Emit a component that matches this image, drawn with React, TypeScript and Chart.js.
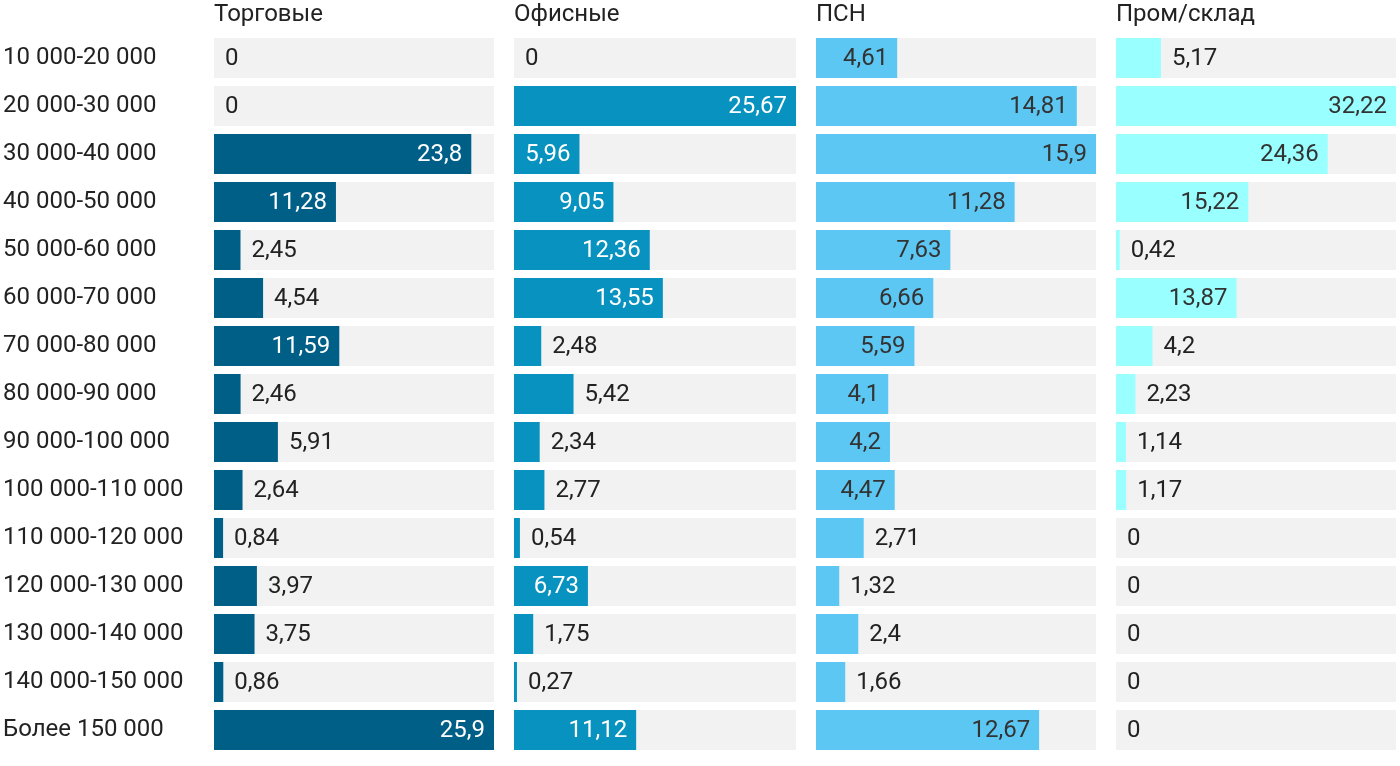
import React, { useEffect, useRef } from "react";
import { Chart, registerables } from "chart.js";

Chart.register(...registerables);

const categories = [
  "10 000-20 000",
  "20 000-30 000",
  "30 000-40 000",
  "40 000-50 000",
  "50 000-60 000",
  "60 000-70 000",
  "70 000-80 000",
  "80 000-90 000",
  "90 000-100 000",
  "100 000-110 000",
  "110 000-120 000",
  "120 000-130 000",
  "130 000-140 000",
  "140 000-150 000",
  "Более 150 000",
];

const retail = [0, 0, 23.8, 11.28, 2.45, 4.54, 11.59, 2.46, 5.91, 2.64, 0.84, 3.97, 3.75, 0.86, 25.9];
const office = [0, 25.67, 5.96, 9.05, 12.36, 13.55, 2.48, 5.42, 2.34, 2.77, 0.54, 6.73, 1.75, 0.27, 11.12];
const psn = [4.61, 14.81, 15.9, 11.28, 7.63, 6.66, 5.59, 4.1, 4.2, 4.47, 2.71, 1.32, 2.4, 1.66, 12.67];
const warehouse = [5.17, 32.22, 24.36, 15.22, 0.42, 13.87, 4.2, 2.23, 1.14, 1.17, 0, 0, 0, 0, 0];

const panelTitles = ["Торговые", "Офисные", "ПСН", "Пром/склад"];

const FONT = "Roboto, 'Noto Sans', sans-serif";
const FONT_SIZE = 24;
const TEXT = "#222222";

type Panel = {
  title: string;
  values: number[];
  color: string;
  insideText: string;
  left: number;
  width: number;
  showLabels: boolean;
};

const panels: Panel[] = [
  { title: panelTitles[0], values: retail, color: "#005f87", insideText: "#ffffff", left: 0, width: 494, showLabels: true },
  { title: panelTitles[1], values: office, color: "#0892bf", insideText: "#ffffff", left: 514, width: 282, showLabels: false },
  { title: panelTitles[2], values: psn, color: "#5dc7f4", insideText: "#333333", left: 816, width: 280, showLabels: false },
  { title: panelTitles[3], values: warehouse, color: "#99ffff", insideText: "#333333", left: 1116, width: 280, showLabels: false },
];

const fmt = (v: number) => String(v).replace(".", ",");

function PanelChart({ panel }: { panel: Panel }) {
  const ref = useRef<HTMLCanvasElement | null>(null);
  useEffect(() => {
    if (!ref.current) return;
    const max = Math.max(...panel.values);
    const backdrop = panel.values.map(() => max);

    const labelPlugin = {
      id: "valueLabels",
      afterDatasetsDraw(chart: any) {
        const ctx = chart.ctx;
        const meta = chart.getDatasetMeta(0);
        ctx.save();
        ctx.font = `${FONT_SIZE}px ${FONT}`;
        ctx.textBaseline = "middle";
        meta.data.forEach((el: any, i: number) => {
          const v = panel.values[i];
          const txt = fmt(v);
          const w = el.x - el.base;
          if (w >= 65) {
            ctx.textAlign = "right";
            ctx.fillStyle = panel.insideText;
            ctx.fillText(txt, el.x - 9, el.y + 1);
          } else {
            ctx.textAlign = "left";
            ctx.fillStyle = TEXT;
            ctx.fillText(txt, el.x + 11, el.y + 1);
          }
        });
        ctx.restore();
      },
    };

    const titlePlugin = {
      id: "panelTitle",
      afterDraw(chart: any) {
        const ctx = chart.ctx;
        ctx.save();
        ctx.font = `${FONT_SIZE}px ${FONT}`;
        ctx.fillStyle = TEXT;
        ctx.textAlign = "left";
        ctx.textBaseline = "middle";
        ctx.fillText(panel.title, chart.chartArea.left, 15);
        ctx.restore();
      },
    };

    const yScale: any = {
      display: panel.showLabels,
      grid: { display: false },
      border: { display: false },
      ticks: {
        crossAlign: "far",
        color: TEXT,
        font: { family: FONT, size: FONT_SIZE },
        padding: 0,
      },
    };
    if (panel.showLabels) {
      yScale.afterFit = (scale: any) => {
        scale.width = 211;
        scale.paddingTop = 0;
        scale.paddingBottom = 0;
      };
    }

    const chart = new Chart(ref.current, {
      type: "bar",
      data: {
        labels: categories,
        datasets: [
          {
            data: panel.values,
            backgroundColor: panel.color,
            grouped: false,
            categoryPercentage: 1,
            barPercentage: 40 / 48,
            borderWidth: 0,
          } as any,
          {
            data: backdrop,
            backgroundColor: "#f2f2f2",
            grouped: false,
            categoryPercentage: 1,
            barPercentage: 40 / 48,
            borderWidth: 0,
          } as any,
        ],
      },
      options: {
        indexAxis: "y",
        animation: false,
        responsive: true,
        maintainAspectRatio: false,
        layout: { padding: { top: 34, bottom: 12, left: panel.showLabels ? 3 : 0, right: 0 } },
        plugins: { legend: { display: false }, tooltip: { enabled: false }, title: { display: false } },
        scales: {
          x: { display: false, min: 0, max },
          y: yScale,
        },
      },
      plugins: [labelPlugin, titlePlugin],
    });
    return () => chart.destroy();
  }, [panel]);

  return (
    <div style={{ position: "absolute", left: panel.left, top: 0, width: panel.width, height: 766 }}>
      <canvas ref={ref} />
    </div>
  );
}

export default function App() {
  return (
    <div style={{ position: "fixed", left: 0, top: 0, width: 1400, height: 766, background: "#ffffff" }}>
      {panels.map((p) => (
        <PanelChart key={p.title} panel={p} />
      ))}
    </div>
  );
}
